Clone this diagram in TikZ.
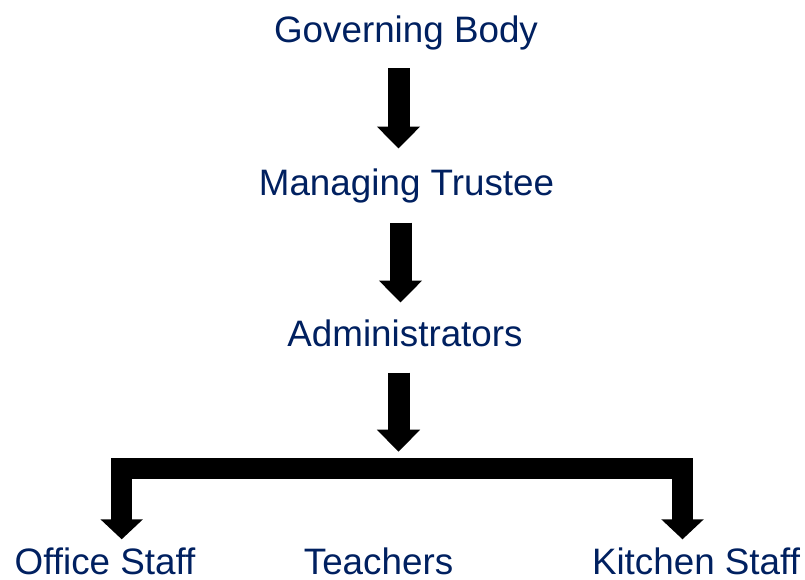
\documentclass[tikz,border=0pt]{standalone}
\usepackage{fontspec}
\setmainfont{Liberation Sans}
\usetikzlibrary{arrows.meta}
\definecolor{navy}{HTML}{002060}
\begin{document}
\begin{tikzpicture}[x=0.75pt,y=-0.75pt,
  lbl/.style={text=navy, font=\fontsize{27.6}{31}\selectfont, anchor=base, inner sep=0pt},
  blk/.style={draw=black, line width=16.5pt, miter limit=10,
    -{Triangle[width=31.5pt,length=16.5pt]}},
  brk/.style={draw=black, line width=16pt, line join=miter,
    {Triangle[width=31pt,length=15pt]}-{Triangle[width=31pt,length=15pt]}},
]
\useasboundingbox (0,0) rectangle (805,579);
\node[lbl] (gb) at (406,42.3) {Governing Body};
\node[lbl] (mt) at (406.5,195) {Managing Trustee};
\node[lbl] (ad) at (405,346) {Administrators};
\node[lbl, text depth=0pt] (os) at (105,574.3) {Office Staff};
\node[lbl, text depth=0pt] (te) at (378.5,574.3) {Teachers};
\node[lbl, text depth=0pt] (ks) at (696,574.3) {Kitchen Staff};
\coordinate (a1s) at (398.5,68.3);
\coordinate (a1e) at (398.5,148.5);
\coordinate (a2s) at (400.5,222.7);
\coordinate (a2e) at (400.5,302.5);
\coordinate (a3s) at (398.5,372.7);
\coordinate (a3e) at (398.5,451.7);
\coordinate (bl) at (121.7,539.3);
\coordinate (bm) at (400,468.8);
\coordinate (br) at (682.5,539.3);
\draw[blk] (a1s) -- (a1e);
\draw[blk] (a2s) -- (a2e);
\draw[blk] (a3s) -- (a3e);
\draw[brk] (bl) |- (bm) -| (br);
\end{tikzpicture}
\end{document}
